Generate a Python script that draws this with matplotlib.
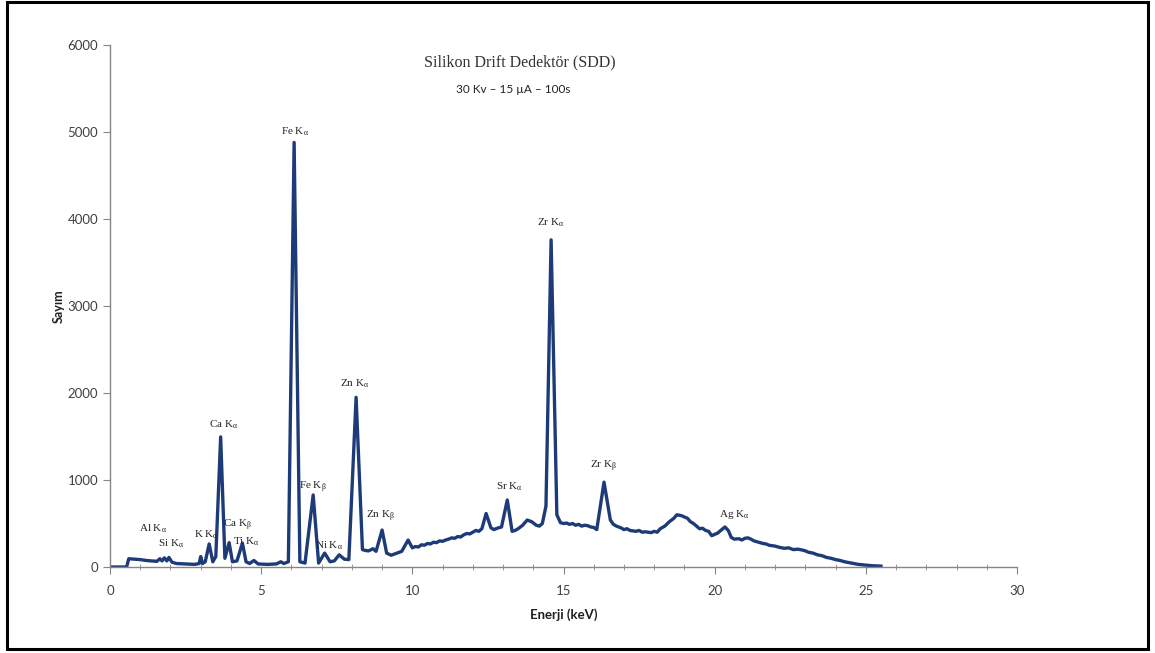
import matplotlib
matplotlib.use("Agg")
import matplotlib.pyplot as plt
from matplotlib.patches import Rectangle
from matplotlib.ticker import MultipleLocator

plt.rcParams['mathtext.fontset'] = 'custom'
plt.rcParams['mathtext.rm'] = 'Liberation Serif'
plt.rcParams['mathtext.it'] = 'Liberation Serif'

# ---- data ----
energy_kev = [
    0.0, 0.55, 0.62, 0.8, 1.0, 1.2, 1.4, 1.55, 1.65, 1.72, 1.8, 1.88, 1.95, 2.05,
    2.2, 2.5, 2.8, 2.95, 3.0, 3.06, 3.15, 3.28, 3.4, 3.5, 3.66, 3.8, 3.94, 4.05,
    4.2, 4.38, 4.5, 4.62, 4.76, 4.9, 5.2, 5.5, 5.65, 5.75, 5.9, 6.09, 6.28, 6.45,
    6.72, 6.9, 7.1, 7.28, 7.42, 7.58, 7.75, 7.9, 8.14, 8.35, 8.45, 8.55, 8.7, 8.8,
    9.0, 9.15, 9.3, 9.5, 9.65, 9.86, 10.0, 10.1, 10.2, 10.3, 10.4, 10.5, 10.6,
    10.7, 10.8, 10.9, 11.0, 11.1, 11.2, 11.3, 11.4, 11.5, 11.6, 11.7, 11.8, 11.9,
    12.0, 12.1, 12.2, 12.3, 12.44, 12.6, 12.7, 12.8, 12.95, 13.14, 13.3, 13.4,
    13.5, 13.65, 13.8, 13.95, 14.1, 14.2, 14.3, 14.42, 14.59, 14.78, 14.9, 15.0,
    15.1, 15.2, 15.3, 15.4, 15.5, 15.6, 15.7, 15.8, 15.9, 16.0, 16.1, 16.34,
    16.55, 16.65, 16.75, 16.9, 17.0, 17.1, 17.2, 17.3, 17.4, 17.5, 17.6, 17.7,
    17.8, 17.9, 18.0, 18.1, 18.2, 18.35, 18.5, 18.65, 18.75, 18.9, 19.0, 19.1,
    19.2, 19.3, 19.4, 19.5, 19.6, 19.7, 19.8, 19.9, 20.0, 20.1, 20.2, 20.34,
    20.45, 20.55, 20.65, 20.8, 20.9, 21.0, 21.1, 21.2, 21.3, 21.4, 21.5, 21.6,
    21.7, 21.8, 21.9, 22.0, 22.15, 22.3, 22.45, 22.6, 22.75, 22.9, 23.0, 23.1,
    23.25, 23.4, 23.55, 23.7, 23.85, 24.0, 24.15, 24.3, 24.45, 24.6, 24.75,
    24.9, 25.05, 25.2, 25.35, 25.5,
]
counts = [
    0, 0, 95, 90, 85, 75, 70, 65, 95, 70, 105, 70, 110, 55,
    40, 35, 30, 40, 120, 40, 60, 265, 60, 120, 1495, 100, 280, 60,
    70, 275, 60, 40, 75, 35, 30, 35, 60, 40, 60, 4880, 60, 45,
    828, 45, 160, 60, 70, 140, 90, 85, 1950, 200, 190, 185, 210, 180,
    425, 160, 135, 160, 180, 310, 220, 235, 230, 255, 250, 270, 265,
    285, 280, 300, 295, 310, 320, 335, 330, 350, 345, 370, 385, 380,
    400, 420, 410, 440, 615, 450, 430, 445, 460, 770, 410, 420,
    440, 480, 540, 520, 480, 470, 500, 700, 3760, 600, 510, 500,
    505, 490, 500, 480, 490, 470, 480, 475, 460, 455, 430, 975,
    540, 490, 470, 450, 430, 440, 420, 415, 410, 420, 400, 405,
    400, 395, 410, 400, 440, 470, 520, 560, 600, 590, 575, 560,
    520, 500, 470, 440, 445, 420, 410, 360, 375, 390, 420, 460,
    420, 340, 320, 325, 310, 330, 335, 320, 300, 290, 280, 270,
    265, 250, 245, 240, 225, 215, 220, 200, 205, 195, 185, 170,
    160, 140, 130, 110, 100, 85, 75, 60, 50, 40, 30,
    25, 20, 15, 12, 10,
]

peak_labels = ["Al K$_α$", "Si K$_α$", "K K$_α$", "Ca K$_β$", "Ti K$_α$", "Ca K$_α$",
               "Fe K$_α$", "Fe K$_β$", "Ni K$_α$", "Zn K$_α$", "Zn K$_β$", "Sr K$_α$",
               "Zr K$_α$", "Zr K$_β$", "Ag K$_α$"]
label_x = [1.42, 2.02, 3.2, 4.2, 4.5, 3.74, 6.12, 6.72, 7.24, 8.1, 8.96, 13.2,
           14.56, 16.31, 20.64]
label_y = [437, 264, 368, 483, 287, 1632, 5000, 920, 241, 2103, 586, 920,
           3954, 1161, 598]

x_ticks = [0, 5, 10, 15, 20, 25, 30]
y_ticks = [0, 1000, 2000, 3000, 4000, 5000, 6000]

title = "Silikon Drift Dedektör (SDD)"
subtitle = "30 Kv – 15 µA – 100s"
xlabel = "Enerji (keV)"
ylabel = "Sayım"

# ---- figure ----
fig = plt.figure(figsize=(11.55, 6.53), dpi=100)
ax = fig.add_axes([110 / 1155, 1 - 567 / 653, 907 / 1155, 522 / 653])

ax.plot(energy_kev, counts, color='#1d3b78', lw=2.4, solid_joinstyle='round', zorder=2)

ax.set_xlim(0, 30)
ax.set_ylim(0, 6000)
ax.set_xticks(x_ticks)
ax.set_yticks(y_ticks)
ax.xaxis.set_minor_locator(MultipleLocator(1))

for s in ['top', 'right']:
    ax.spines[s].set_visible(False)
for s in ['left', 'bottom']:
    ax.spines[s].set_color('#868686')
    ax.spines[s].set_linewidth(1.0)

ax.tick_params(axis='both', which='major', direction='out', length=5, color='#868686',
               labelcolor='#404040', labelsize=9.5)
ax.tick_params(axis='x', which='minor', direction='inout', length=4, color='#868686')
ax.tick_params(axis='x', which='major', pad=8)
for lab in ax.get_xticklabels() + ax.get_yticklabels():
    lab.set_family('Lato')

ax.set_xlabel(xlabel, fontsize=9.5, fontweight='bold', family='Lato', labelpad=8, color='#202020')
ax.set_ylabel(ylabel, fontsize=9, fontweight='bold', family='Lato', labelpad=2, color='#202020')

for t, x, y in zip(peak_labels, label_x, label_y):
    ax.text(x, y, t, ha='center', va='center', fontsize=8, family='Liberation Serif',
            color='#222222', zorder=3)

ax.text(0.452, 0.967, title, transform=ax.transAxes, ha='center', va='center',
        fontsize=11.5, family='Liberation Serif', color='#333333')
ax.text(0.444, 0.914, subtitle, transform=ax.transAxes, ha='center', va='center',
        fontsize=8.5, family='Lato', color='#222222')

# outer border
fig.patches.append(Rectangle((7 / 1155, 4 / 653), 1141 / 1155, 647 / 653,
                             transform=fig.transFigure, fill=False,
                             edgecolor='black', lw=2.2))

fig.savefig('out.png', dpi=100, facecolor='white')
